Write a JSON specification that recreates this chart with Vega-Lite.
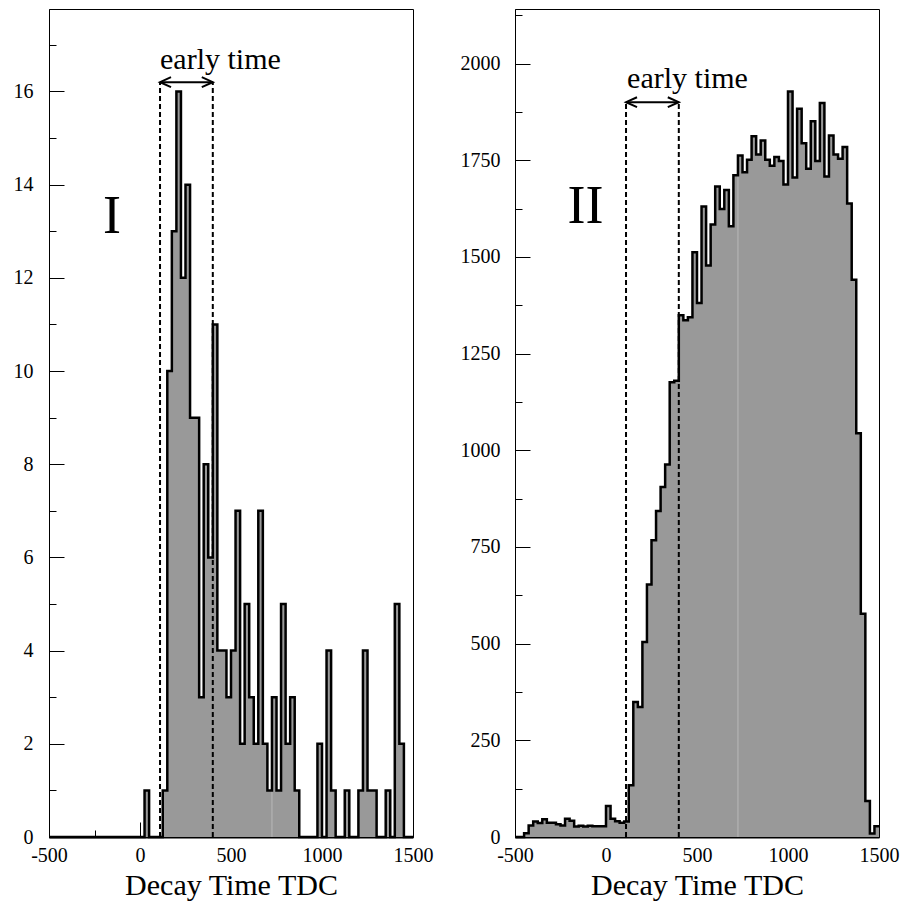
{
  "$schema": "https://vega.github.io/schema/vega-lite/v6.json",
  "background": "white",
  "padding": {"left": 12, "top": 8, "right": 5, "bottom": 2},
  "spacing": 102,
  "bounds": "flush",
  "config": {
    "font": "Liberation Serif",
    "view": {"stroke": "#000", "strokeWidth": 1},
    "axis": {
      "grid": false, "labelFont": "Liberation Serif", "titleFont": "Liberation Serif",
      "labelColor": "#000", "titleColor": "#000", "domainColor": "#000", "tickColor": "#000",
      "labelFontSize": 20, "titleFontSize": 30, "titleFontWeight": "normal",
      "labelFlush": false, "labelOverlap": false, "labelBound": false,
      "labelExpr": "'' + datum.value"
    }
  },
  "datasets": {
    "left": [
      {"t": -500, "n": 0}, {"t": -475, "n": 0}, {"t": -450, "n": 0}, {"t": -425, "n": 0}, {"t": -400, "n": 0},
      {"t": -375, "n": 0}, {"t": -350, "n": 0}, {"t": -325, "n": 0}, {"t": -300, "n": 0}, {"t": -275, "n": 0},
      {"t": -250, "n": 0}, {"t": -225, "n": 0}, {"t": -200, "n": 0}, {"t": -175, "n": 0}, {"t": -150, "n": 0},
      {"t": -125, "n": 0}, {"t": -100, "n": 0}, {"t": -75, "n": 0}, {"t": -50, "n": 0}, {"t": -25, "n": 0},
      {"t": 0, "n": 0}, {"t": 25, "n": 1}, {"t": 50, "n": 0}, {"t": 75, "n": 0}, {"t": 100, "n": 0},
      {"t": 125, "n": 1}, {"t": 150, "n": 10}, {"t": 175, "n": 13}, {"t": 200, "n": 16}, {"t": 225, "n": 12},
      {"t": 250, "n": 14}, {"t": 275, "n": 9}, {"t": 300, "n": 9}, {"t": 325, "n": 3}, {"t": 350, "n": 8},
      {"t": 375, "n": 6}, {"t": 400, "n": 11}, {"t": 425, "n": 4}, {"t": 450, "n": 4}, {"t": 475, "n": 3},
      {"t": 500, "n": 4}, {"t": 525, "n": 7}, {"t": 550, "n": 2}, {"t": 575, "n": 5}, {"t": 600, "n": 3},
      {"t": 625, "n": 2}, {"t": 650, "n": 7}, {"t": 675, "n": 2}, {"t": 700, "n": 1}, {"t": 725, "n": 3},
      {"t": 750, "n": 1}, {"t": 775, "n": 5}, {"t": 800, "n": 2}, {"t": 825, "n": 3}, {"t": 850, "n": 1},
      {"t": 875, "n": 0}, {"t": 900, "n": 0}, {"t": 925, "n": 0}, {"t": 950, "n": 0}, {"t": 975, "n": 2},
      {"t": 1000, "n": 0}, {"t": 1025, "n": 4}, {"t": 1050, "n": 1}, {"t": 1075, "n": 0}, {"t": 1100, "n": 0},
      {"t": 1125, "n": 1}, {"t": 1150, "n": 0}, {"t": 1175, "n": 0}, {"t": 1200, "n": 1}, {"t": 1225, "n": 4},
      {"t": 1250, "n": 1}, {"t": 1275, "n": 1}, {"t": 1300, "n": 0}, {"t": 1325, "n": 0}, {"t": 1350, "n": 1},
      {"t": 1375, "n": 0}, {"t": 1400, "n": 5}, {"t": 1425, "n": 2}, {"t": 1450, "n": 0}, {"t": 1475, "n": 0},
      {"t": 1500, "n": 0}
    ],
    "right": [
      {"t": -500, "n": 0}, {"t": -475, "n": 0}, {"t": -450, "n": 10}, {"t": -425, "n": 30}, {"t": -400, "n": 40},
      {"t": -375, "n": 36}, {"t": -350, "n": 46}, {"t": -325, "n": 37}, {"t": -300, "n": 37}, {"t": -275, "n": 33},
      {"t": -250, "n": 30}, {"t": -225, "n": 47}, {"t": -200, "n": 42}, {"t": -175, "n": 27}, {"t": -150, "n": 29},
      {"t": -125, "n": 27}, {"t": -100, "n": 29}, {"t": -75, "n": 28}, {"t": -50, "n": 28}, {"t": -25, "n": 28},
      {"t": 0, "n": 80}, {"t": 25, "n": 47}, {"t": 50, "n": 41}, {"t": 75, "n": 37}, {"t": 100, "n": 40},
      {"t": 125, "n": 134}, {"t": 150, "n": 349}, {"t": 175, "n": 336}, {"t": 200, "n": 504}, {"t": 225, "n": 653},
      {"t": 250, "n": 767}, {"t": 275, "n": 843}, {"t": 300, "n": 905}, {"t": 325, "n": 963}, {"t": 350, "n": 1176},
      {"t": 375, "n": 1180}, {"t": 400, "n": 1349}, {"t": 425, "n": 1336}, {"t": 450, "n": 1344}, {"t": 475, "n": 1512},
      {"t": 500, "n": 1381}, {"t": 525, "n": 1630}, {"t": 550, "n": 1478}, {"t": 575, "n": 1584}, {"t": 600, "n": 1682},
      {"t": 625, "n": 1624}, {"t": 650, "n": 1673}, {"t": 675, "n": 1579}, {"t": 700, "n": 1711}, {"t": 725, "n": 1762},
      {"t": 750, "n": 1719}, {"t": 775, "n": 1751}, {"t": 800, "n": 1812}, {"t": 825, "n": 1765}, {"t": 850, "n": 1801},
      {"t": 875, "n": 1751}, {"t": 900, "n": 1736}, {"t": 925, "n": 1758}, {"t": 950, "n": 1748}, {"t": 975, "n": 1687},
      {"t": 1000, "n": 1928}, {"t": 1025, "n": 1705}, {"t": 1050, "n": 1883}, {"t": 1075, "n": 1794}, {"t": 1100, "n": 1728},
      {"t": 1125, "n": 1851}, {"t": 1150, "n": 1748}, {"t": 1175, "n": 1898}, {"t": 1200, "n": 1708}, {"t": 1225, "n": 1814},
      {"t": 1250, "n": 1765}, {"t": 1275, "n": 1754}, {"t": 1300, "n": 1784}, {"t": 1325, "n": 1638}, {"t": 1350, "n": 1441},
      {"t": 1375, "n": 1044}, {"t": 1400, "n": 577}, {"t": 1425, "n": 93}, {"t": 1450, "n": 9}, {"t": 1475, "n": 28},
      {"t": 1500, "n": 28}
    ]
  },
  "hconcat": [
    {
      "width": 364,
      "height": 828,
      "resolve": {"axis": {"x": "independent", "y": "independent"}},
      "layer": [
        {
          "data": {"name": "left"},
          "mark": {"type": "area", "interpolate": "step-after", "color": "#999999"},
          "encoding": {
            "x": {"field": "t", "type": "quantitative", "scale": {"domain": [-500, 1500], "nice": false, "zero": false},
              "axis": {"orient": "bottom", "values": [-500, 0, 500, 1000, 1500], "tickSize": -15, "labelPadding": 23, "domainWidth": 2, "title": "Decay Time TDC", "titlePadding": 5}},
            "y": {"field": "n", "type": "quantitative", "scale": {"domain": [0, 17.77], "nice": false},
              "axis": {"orient": "left", "values": [0, 2, 4, 6, 8, 10, 12, 14, 16], "tickSize": -15, "labelPadding": 31, "title": null}}
          }
        },
        {
          "data": {"values": [{"x": 725, "y0": 0, "y1": 1}]},
          "mark": {"type": "rule", "color": "#b8b8b8", "strokeWidth": 1},
          "encoding": {
            "x": {"field": "x", "type": "quantitative", "scale": {"domain": [-500, 1500], "nice": false, "zero": false},
              "axis": {"orient": "bottom", "values": [-250, 250, 750, 1250], "tickSize": -7, "labels": false, "domain": false, "title": null}},
            "y": {"field": "y0", "type": "quantitative", "scale": {"domain": [0, 17.77], "nice": false},
              "axis": {"orient": "left", "values": [1, 3, 5, 7, 9, 11, 13, 15, 17], "tickSize": -7, "labels": false, "domain": false, "title": null}},
            "y2": {"field": "y1"}
          }
        },
        {
          "data": {"name": "left"},
          "mark": {"type": "line", "interpolate": "step-after", "color": "#000", "strokeWidth": 2.5},
          "encoding": {
            "x": {"field": "t", "type": "quantitative", "scale": {"domain": [-500, 1500], "nice": false, "zero": false}, "axis": null},
            "y": {"field": "n", "type": "quantitative", "scale": {"domain": [0, 17.77], "nice": false}, "axis": null}
          }
        },
        {
          "data": {"values": [{"x": 110, "y0": 0, "top": 16.2}, {"x": 400, "y0": 0, "top": 16.2}]},
          "mark": {"type": "rule", "color": "#000", "strokeWidth": 2, "strokeDash": [5, 3]},
          "encoding": {
            "x": {"field": "x", "type": "quantitative", "scale": {"domain": [-500, 1500], "nice": false, "zero": false}, "axis": null},
            "y": {"field": "y0", "type": "quantitative", "scale": {"domain": [0, 17.77], "nice": false}, "axis": null},
            "y2": {"field": "top"}
          }
        },
        {
          "data": {"values": [{"a": 110, "b": 400, "y": 16.2}]},
          "mark": {"type": "rule", "color": "#000", "strokeWidth": 2},
          "encoding": {
            "x": {"field": "a", "type": "quantitative", "scale": {"domain": [-500, 1500], "nice": false, "zero": false}, "axis": null},
            "x2": {"field": "b"},
            "y": {"field": "y", "type": "quantitative", "scale": {"domain": [0, 17.77], "nice": false}, "axis": null}
          }
        },
        {
          "data": {"values": [{"x": 110, "y": 16.2, "dir": "left"}, {"x": 400, "y": 16.2, "dir": "right"}]},
          "mark": {"type": "point", "filled": false, "stroke": "#000", "strokeWidth": 2, "size": 121, "opacity": 1},
          "encoding": {
            "x": {"field": "x", "type": "quantitative", "scale": {"domain": [-500, 1500], "nice": false, "zero": false}, "axis": null},
            "y": {"field": "y", "type": "quantitative", "scale": {"domain": [0, 17.77], "nice": false}, "axis": null},
            "shape": {"field": "dir", "type": "nominal", "scale": {"domain": ["left", "right"], "range": ["M2,-0.9L0,0L2,0.9", "M-2,-0.9L0,0L-2,0.9"]}, "legend": null}
          }
        },
        {
          "data": {"values": [{"x": 110, "y": 16.48, "label": "early time"}]},
          "mark": {"type": "text", "baseline": "alphabetic", "align": "left", "font": "Liberation Serif", "fontSize": 30, "color": "#000"},
          "encoding": {
            "x": {"field": "x", "type": "quantitative", "scale": {"domain": [-500, 1500], "nice": false, "zero": false}, "axis": null},
            "y": {"field": "y", "type": "quantitative", "scale": {"domain": [0, 17.77], "nice": false}, "axis": null},
            "text": {"field": "label", "type": "nominal"}
          }
        },
        {
          "data": {"values": [{"x": -154, "y": 12.97, "label": "I"}]},
          "mark": {"type": "text", "baseline": "alphabetic", "align": "center", "font": "Liberation Serif", "fontSize": 54, "color": "#000"},
          "encoding": {
            "x": {"field": "x", "type": "quantitative", "scale": {"domain": [-500, 1500], "nice": false, "zero": false}, "axis": null},
            "y": {"field": "y", "type": "quantitative", "scale": {"domain": [0, 17.77], "nice": false}, "axis": null},
            "text": {"field": "label", "type": "nominal"}
          }
        }
      ]
    },
    {
      "width": 364,
      "height": 828,
      "resolve": {"axis": {"x": "independent", "y": "independent"}},
      "layer": [
        {
          "data": {"name": "right"},
          "mark": {"type": "area", "interpolate": "step-after", "color": "#999999"},
          "encoding": {
            "x": {"field": "t", "type": "quantitative", "scale": {"domain": [-500, 1500], "nice": false, "zero": false},
              "axis": {"orient": "bottom", "values": [-500, 0, 500, 1000, 1500], "tickSize": -15, "labelPadding": 23, "domainWidth": 2, "title": "Decay Time TDC", "titlePadding": 5}},
            "y": {"field": "n", "type": "quantitative", "scale": {"domain": [0, 2141], "nice": false},
              "axis": {"orient": "left", "values": [0, 250, 500, 750, 1000, 1250, 1500, 1750, 2000], "tickSize": -15, "labelPadding": 30, "title": null}}
          }
        },
        {
          "data": {"values": [{"x": 725, "y0": 0, "y1": 1711}]},
          "mark": {"type": "rule", "color": "#b8b8b8", "strokeWidth": 1},
          "encoding": {
            "x": {"field": "x", "type": "quantitative", "scale": {"domain": [-500, 1500], "nice": false, "zero": false},
              "axis": {"orient": "bottom", "values": [-250, 250, 750, 1250], "tickSize": -7, "labels": false, "domain": false, "title": null}},
            "y": {"field": "y0", "type": "quantitative", "scale": {"domain": [0, 2141], "nice": false},
              "axis": {"orient": "left", "values": [125, 375, 625, 875, 1125, 1375, 1625, 1875, 2125], "tickSize": -7, "labels": false, "domain": false, "title": null}},
            "y2": {"field": "y1"}
          }
        },
        {
          "data": {"name": "right"},
          "mark": {"type": "line", "interpolate": "step-after", "color": "#000", "strokeWidth": 2.5},
          "encoding": {
            "x": {"field": "t", "type": "quantitative", "scale": {"domain": [-500, 1500], "nice": false, "zero": false}, "axis": null},
            "y": {"field": "n", "type": "quantitative", "scale": {"domain": [0, 2141], "nice": false}, "axis": null}
          }
        },
        {
          "data": {"values": [{"x": 110, "y0": 0, "top": 1900}, {"x": 400, "y0": 0, "top": 1900}]},
          "mark": {"type": "rule", "color": "#000", "strokeWidth": 2, "strokeDash": [5, 3]},
          "encoding": {
            "x": {"field": "x", "type": "quantitative", "scale": {"domain": [-500, 1500], "nice": false, "zero": false}, "axis": null},
            "y": {"field": "y0", "type": "quantitative", "scale": {"domain": [0, 2141], "nice": false}, "axis": null},
            "y2": {"field": "top"}
          }
        },
        {
          "data": {"values": [{"a": 110, "b": 400, "y": 1900}]},
          "mark": {"type": "rule", "color": "#000", "strokeWidth": 2},
          "encoding": {
            "x": {"field": "a", "type": "quantitative", "scale": {"domain": [-500, 1500], "nice": false, "zero": false}, "axis": null},
            "x2": {"field": "b"},
            "y": {"field": "y", "type": "quantitative", "scale": {"domain": [0, 2141], "nice": false}, "axis": null}
          }
        },
        {
          "data": {"values": [{"x": 110, "y": 1900, "dir": "left"}, {"x": 400, "y": 1900, "dir": "right"}]},
          "mark": {"type": "point", "filled": false, "stroke": "#000", "strokeWidth": 2, "size": 121, "opacity": 1},
          "encoding": {
            "x": {"field": "x", "type": "quantitative", "scale": {"domain": [-500, 1500], "nice": false, "zero": false}, "axis": null},
            "y": {"field": "y", "type": "quantitative", "scale": {"domain": [0, 2141], "nice": false}, "axis": null},
            "shape": {"field": "dir", "type": "nominal", "scale": {"domain": ["left", "right"], "range": ["M2,-0.9L0,0L2,0.9", "M-2,-0.9L0,0L-2,0.9"]}, "legend": null}
          }
        },
        {
          "data": {"values": [{"x": 116, "y": 1936, "label": "early time"}]},
          "mark": {"type": "text", "baseline": "alphabetic", "align": "left", "font": "Liberation Serif", "fontSize": 30, "color": "#000"},
          "encoding": {
            "x": {"field": "x", "type": "quantitative", "scale": {"domain": [-500, 1500], "nice": false, "zero": false}, "axis": null},
            "y": {"field": "y", "type": "quantitative", "scale": {"domain": [0, 2141], "nice": false}, "axis": null},
            "text": {"field": "label", "type": "nominal"}
          }
        },
        {
          "data": {"values": [{"x": -113, "y": 1587, "label": "II"}]},
          "mark": {"type": "text", "baseline": "alphabetic", "align": "center", "font": "Liberation Serif", "fontSize": 54, "color": "#000"},
          "encoding": {
            "x": {"field": "x", "type": "quantitative", "scale": {"domain": [-500, 1500], "nice": false, "zero": false}, "axis": null},
            "y": {"field": "y", "type": "quantitative", "scale": {"domain": [0, 2141], "nice": false}, "axis": null},
            "text": {"field": "label", "type": "nominal"}
          }
        }
      ]
    }
  ]
}
